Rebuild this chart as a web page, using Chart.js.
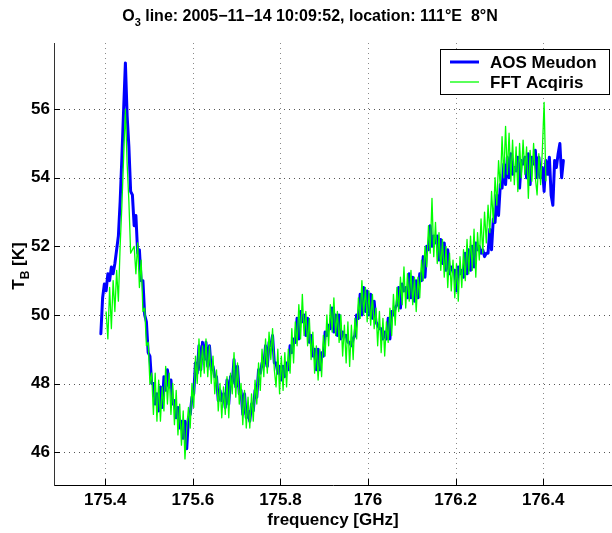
<!DOCTYPE html>
<html>
<head>
<meta charset="utf-8">
<title>O3 line spectrum</title>
<script src="https://cdn.jsdelivr.net/npm/chart.js@4/dist/chart.umd.min.js"></script>
<style>
  html, body { margin: 0; padding: 0; background: #fff; }
  #wrap { width: 612px; height: 533px; }
</style>
</head>
<body>
<div id="wrap"><canvas id="c" width="612" height="533"></canvas></div>
<script>
// Brightness temperature spectra of the O3 line, two spectrometers.
// Channels are evenly spaced; first channel frequency and spacing in GHz.
const AOS_START = 175.390;
const AOS_STEP = 0.004;
const FFT_START = 175.402;
const FFT_STEP = 0.004;

// AOS Meudon brightness temperatures [K]
const aosTb = [
  49.45, 50.5, 50.9, 50.7, 51.2, 51.0, 51.4, 51.2, 51.5, 51.9,
  52.3, 53.3, 54.6, 56.0, 57.35, 55.8, 54.9, 53.6, 53.5, 52.6,
  52.9, 51.8, 51.9, 51.0, 51.0, 50.0, 49.8, 48.9, 48.8, 48.0,
  48.0, 47.4, 47.7, 47.2, 47.9, 47.3, 48.2, 47.8, 48.4, 47.9,
  48.1, 47.4, 47.5, 47.0, 47.3, 46.7, 46.9, 46.4, 46.9, 46.1,
  47.0, 47.1, 47.6, 47.7, 48.6, 48.3, 49.1, 48.4, 49.2, 48.7,
  49.2, 48.5, 49.1, 48.4, 48.5, 48.2, 48.2, 47.5, 47.8, 47.5,
  47.7, 47.3, 48.1, 47.4, 48.2, 48.0, 48.7, 47.9, 48.5, 47.7,
  47.8, 47.1, 47.7, 47.0, 47.2, 46.9, 47.4, 47.2, 47.8, 47.6,
  48.4, 48.3, 48.6, 48.5, 49.1, 48.5, 49.2, 49.1, 49.4, 48.6,
  48.6, 48.3, 48.5, 48.1, 48.5, 48.2, 48.6, 48.4, 49.1, 48.9,
  49.3, 49.2, 49.9, 49.3, 50.1, 49.8, 50.0, 49.4, 49.9, 49.2,
  49.4, 48.8, 49.0, 48.4, 49.0, 48.4, 48.9, 48.8, 49.5, 49.4,
  49.7, 49.6, 50.2, 49.5, 50.0, 49.4, 50.0, 49.3, 49.5, 49.4,
  49.4, 49.2, 49.2, 49.1, 49.3, 49.4, 50.0, 49.9, 50.6, 50.0,
  50.8, 50.1, 50.7, 50.0, 50.6, 49.9, 50.4, 49.8, 49.7, 49.6,
  49.6, 49.3, 49.5, 49.3, 49.9, 49.3, 50.1, 50.0, 50.2, 50.3,
  50.8, 50.2, 50.9, 50.7, 50.8, 50.5, 51.2, 50.5, 51.1, 50.4,
  51.0, 50.5, 51.2, 51.0, 51.7, 51.1, 52.0, 51.9, 52.6, 52.0,
  52.3, 52.1, 52.3, 51.6, 52.2, 51.5, 52.1, 51.3, 51.9, 51.2,
  51.4, 51.3, 51.3, 50.7, 51.4, 51.2, 51.3, 51.1, 51.8, 51.2,
  51.9, 51.3, 52.0, 51.4, 52.1, 51.9, 52.0, 51.8, 51.9, 51.7,
  51.8, 51.8, 52.5, 51.9, 52.8, 52.7, 53.5, 52.9, 53.8, 53.7,
  54.4, 53.8, 54.6, 54.0, 54.7, 54.1, 54.3, 54.2, 54.6, 53.7,
  54.5, 54.4, 54.6, 54.0, 54.7, 53.8, 54.6, 54.4, 54.8, 54.0,
  54.6, 54.0, 54.3, 53.6, 54.5, 54.1, 54.6, 53.5, 53.2, 54.5,
  54.3, 54.7, 55.0, 54.0, 54.5
];

// FFT Acqiris brightness temperatures [K]
const fftTb = [
  50.1, 49.3, 50.8, 49.6, 51.0, 50.1, 51.3, 50.4, 52.0, 53.2,
  54.6, 56.0, 54.4, 53.3, 51.8, 51.9, 52.0, 51.2, 52.1, 50.8,
  51.6, 50.1, 50.2, 49.1, 49.2, 48.0, 48.3, 47.1, 48.3, 46.9,
  48.1, 46.9, 47.9, 47.2, 48.5, 47.4, 48.3, 47.1, 48.0, 46.8,
  47.8, 46.5, 47.4, 46.2, 47.2, 45.8, 46.7, 47.3, 46.7, 48.0,
  47.3, 48.8, 48.0, 49.3, 48.2, 49.1, 48.3, 49.3, 48.2, 49.1,
  48.0, 48.8, 47.7, 48.4, 47.2, 48.0, 47.0, 47.9, 47.1, 48.2,
  47.0, 48.3, 47.7, 48.9, 47.6, 48.6, 47.4, 48.0, 46.8, 47.8,
  46.7, 47.6, 46.7, 47.7, 46.9, 48.1, 47.4, 48.6, 47.8, 49.0,
  48.2, 49.3, 48.3, 49.5, 48.7, 49.6, 48.4, 47.9, 49.0, 47.7,
  48.8, 47.8, 48.9, 47.9, 49.0, 48.3, 49.6, 48.6, 49.8, 49.1,
  50.3, 49.3, 50.6, 49.4, 50.1, 49.1, 49.9, 48.7, 49.5, 48.3,
  49.1, 48.1, 49.0, 48.2, 49.4, 48.8, 50.0, 49.1, 50.3, 49.5,
  50.5, 49.4, 50.1, 49.2, 50.0, 48.8, 49.7, 48.6, 49.8, 48.5,
  49.7, 48.7, 49.9, 49.3, 50.5, 49.9, 51.0, 50.0, 50.8, 49.8,
  50.7, 49.7, 50.6, 49.6, 50.2, 49.1, 50.1, 48.9, 49.9, 48.8,
  49.8, 49.2, 50.2, 49.4, 50.6, 49.7, 50.8, 50.1, 51.1, 50.3,
  51.4, 50.2, 51.2, 50.4, 51.3, 50.3, 51.1, 50.1, 51.1, 50.5,
  51.6, 51.0, 52.0, 51.4, 52.6, 51.8, 53.4, 51.7, 52.7, 51.5,
  52.4, 51.3, 52.2, 51.1, 52.0, 50.8, 51.8, 50.7, 51.6, 50.5,
  51.5, 50.4, 51.7, 50.8, 51.9, 51.0, 52.2, 51.2, 52.3, 51.3,
  52.5, 51.1, 52.4, 51.6, 52.8, 51.8, 53.0, 52.1, 53.2, 52.4,
  53.6, 52.7, 54.0, 53.2, 54.5, 53.7, 55.2, 54.0, 55.5, 54.1,
  55.3, 53.9, 55.1, 53.8, 54.9, 53.6, 55.0, 54.0, 55.1, 54.1,
  54.9, 53.4, 54.8, 53.9, 55.0, 54.0, 53.5, 54.7, 53.8, 54.8,
  56.2, 53.9
];

// Axis ticks
const xTickValues = [175.4, 175.6, 175.8, 176.0, 176.2, 176.4];
const xTickLabels = ['175.4', '175.6', '175.8', '176', '176.2', '176.4'];
const yTickValues = [46, 48, 50, 52, 54, 56];
const yTickLabels = ['46', '48', '50', '52', '54', '56'];

const seriesNames = ['AOS Meudon', 'FFT Acqiris'];
const seriesColors = ['#0000ff', '#00ff00'];

const FONT = '"Liberation Sans", Arial, Helvetica, sans-serif';

const aosPoints = aosTb.map((t, i) => ({ x: AOS_START + i * AOS_STEP, y: t }));
const fftPoints = fftTb.map((t, i) => ({ x: FFT_START + i * FFT_STEP, y: t }));

// Dotted grid at the tick positions, drawn under the data
const dottedGrid = {
  id: 'dottedGrid',
  beforeDatasetsDraw(chart) {
    const { ctx, chartArea, scales } = chart;
    ctx.save();
    ctx.lineWidth = 1;
    ctx.setLineDash([1, 4]);
    ctx.strokeStyle = '#8a8a8a';
    ctx.beginPath();
    xTickValues.forEach(v => {
      const px = Math.round(scales.x.getPixelForValue(v)) + 0.5;
      ctx.moveTo(px, chartArea.top);
      ctx.lineTo(px, chartArea.bottom);
    });
    ctx.stroke();
    ctx.strokeStyle = '#555';
    ctx.beginPath();
    yTickValues.forEach(v => {
      const py = Math.round(scales.y.getPixelForValue(v)) + 0.5;
      ctx.moveTo(chartArea.left, py);
      ctx.lineTo(chartArea.right, py);
    });
    ctx.stroke();
    ctx.restore();
  }
};

// Inward tick marks
const innerTicks = {
  id: 'innerTicks',
  afterDatasetsDraw(chart) {
    const { ctx, chartArea, scales } = chart;
    ctx.save();
    ctx.strokeStyle = '#000';
    ctx.lineWidth = 1;
    ctx.beginPath();
    xTickValues.forEach(v => {
      const px = Math.round(scales.x.getPixelForValue(v)) + 0.5;
      ctx.moveTo(px, chartArea.bottom);
      ctx.lineTo(px, chartArea.bottom - 6);
    });
    yTickValues.forEach(v => {
      const py = Math.round(scales.y.getPixelForValue(v)) + 0.5;
      ctx.moveTo(chartArea.left, py);
      ctx.lineTo(chartArea.left + 6, py);
    });
    ctx.stroke();
    ctx.restore();
  }
};

// Title and y-axis label with subscripts, plus the boxed legend
const annotations = {
  id: 'annotations',
  afterDraw(chart) {
    const { ctx } = chart;
    ctx.save();
    ctx.fillStyle = '#000';
    ctx.textBaseline = 'alphabetic';

    // Title
    const big = 'bold 16px ' + FONT;
    const small = 'bold 11px ' + FONT;
    const t1 = 'O', t2 = '3', t3 = ' line: 2005\u221211\u221214 10:09:52, location: 111\u00B0E  8\u00B0N';
    ctx.font = big; const w1 = ctx.measureText(t1).width, w3 = ctx.measureText(t3).width;
    ctx.font = small; const w2 = ctx.measureText(t2).width;
    let x = 310 - (w1 + w2 + w3) / 2;
    const by = 21;
    ctx.font = big; ctx.textAlign = 'left'; ctx.fillText(t1, x, by); x += w1;
    ctx.font = small; ctx.fillText(t2, x, by + 5); x += w2;
    ctx.font = big; ctx.fillText(t3, x, by);

    // Y-axis label
    ctx.translate(24, 266);
    ctx.rotate(-Math.PI / 2);
    const yb = 'bold 17px ' + FONT, ys = 'bold 12px ' + FONT;
    const a1 = 'T', a2 = 'B', a3 = ' [K]';
    ctx.font = yb; const b1 = ctx.measureText(a1).width, b3 = ctx.measureText(a3).width;
    ctx.font = ys; const b2 = ctx.measureText(a2).width;
    let lx = -(b1 + b2 + b3) / 2;
    ctx.font = yb; ctx.fillText(a1, lx, 0); lx += b1;
    ctx.font = ys; ctx.fillText(a2, lx, 5); lx += b2;
    ctx.font = yb; ctx.fillText(a3, lx, 0);
    ctx.restore();

    // Legend
    ctx.save();
    const box = { x: 440.5, y: 49.5, w: 169, h: 45 };
    ctx.fillStyle = '#fff';
    ctx.fillRect(box.x, box.y, box.w, box.h);
    ctx.strokeStyle = '#000';
    ctx.lineWidth = 1;
    ctx.strokeRect(box.x, box.y, box.w, box.h);
    chart.data.datasets.forEach((ds, i) => {
      const cy = 62 + i * 20;
      ctx.strokeStyle = ds.borderColor;
      ctx.lineWidth = ds.borderWidth;
      ctx.beginPath();
      ctx.moveTo(450, cy);
      ctx.lineTo(479, cy);
      ctx.stroke();
      ctx.fillStyle = '#000';
      ctx.font = 'bold 17px ' + FONT;
      ctx.textBaseline = 'middle';
      ctx.textAlign = 'left';
      ctx.fillText(ds.label, 490, cy + 1);
    });
    ctx.restore();
  }
};

new Chart(document.getElementById('c'), {
  type: 'line',
  data: {
    datasets: [
      { label: seriesNames[0], data: aosPoints, borderColor: seriesColors[0], borderWidth: 3,
        borderJoinStyle: 'round', borderCapStyle: 'round',
        pointRadius: 0, tension: 0, fill: false, order: 2 },
      { label: seriesNames[1], data: fftPoints, borderColor: seriesColors[1], borderWidth: 1.3,
        borderJoinStyle: 'round',
        pointRadius: 0, tension: 0, fill: false, order: 1 }
    ]
  },
  options: {
    responsive: false,
    devicePixelRatio: 1,
    animation: false,
    layout: { padding: { top: 43, left: 0, right: 0, bottom: 0 } },
    plugins: { legend: { display: false }, title: { display: false }, tooltip: { enabled: false } },
    scales: {
      x: {
        type: 'linear',
        min: 175.283,
        max: 176.557,
        afterBuildTicks: s => { s.ticks = xTickValues.map(v => ({ value: v })); },
        afterFit: s => { s.height = 48; },
        ticks: {
          autoSkip: false, maxRotation: 0, padding: 5, color: '#000',
          font: { family: FONT, size: 17, weight: 'bold' },
          callback: (v, i) => xTickLabels[i]
        },
        grid: { drawOnChartArea: false, drawTicks: false },
        border: { display: true, color: '#000', width: 1 },
        title: {
          display: true, text: 'frequency [GHz]', color: '#000',
          font: { family: FONT, size: 17, weight: 'bold' },
          padding: { top: 0, bottom: 2 }
        }
      },
      y: {
        type: 'linear',
        min: 45.04,
        max: 57.93,
        afterBuildTicks: s => { s.ticks = yTickValues.map(v => ({ value: v })); },
        afterFit: s => { s.width = 54; },
        ticks: {
          autoSkip: false, padding: 4, color: '#000',
          font: { family: FONT, size: 17, weight: 'bold' },
          callback: (v, i) => yTickLabels[i]
        },
        grid: { drawOnChartArea: false, drawTicks: false },
        border: { display: true, color: '#333', width: 1 }
      }
    }
  },
  plugins: [dottedGrid, innerTicks, annotations]
});
</script>
</body>
</html>
